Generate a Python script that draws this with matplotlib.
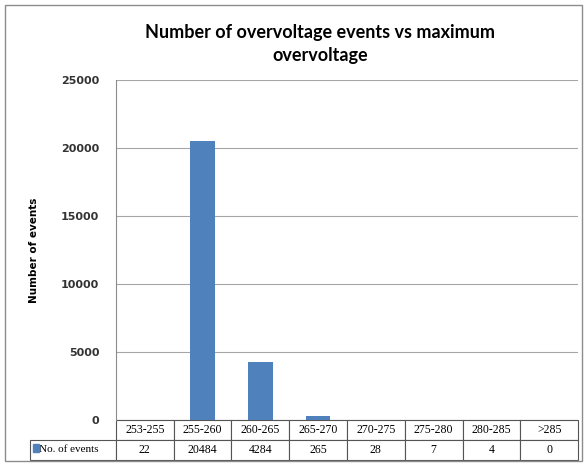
import matplotlib.pyplot as plt
from matplotlib.patches import Rectangle

# ===== data =====
categories = ["253-255", "255-260", "260-265", "265-270", "270-275", "275-280", "280-285", ">285"]
events = [22, 20484, 4284, 265, 28, 7, 4, 0]
series_name = "No. of events"
bar_color = "#4F81BD"

fig = plt.figure(figsize=(5.87, 4.65), dpi=100)
ax = fig.add_axes([0.1976, 0.0968, 0.7871, 0.7312])

# outer chart border
fig.patches.append(Rectangle((0.009, 0.008), 0.983, 0.982, transform=fig.transFigure,
                             fill=False, edgecolor="#8c8c8c", linewidth=1.0))

x = list(range(len(categories)))
ax.bar(x, events, width=0.42, color=bar_color, zorder=3)

ax.set_xlim(-0.5, len(categories) - 0.5)
ax.set_ylim(0, 25000)
ax.set_yticks(range(0, 25001, 5000))
ax.set_xticks([])
ax.tick_params(axis="y", length=0, pad=12)
for lab in ax.get_yticklabels():
    lab.set_fontsize(8)
    lab.set_fontweight("bold")
    lab.set_color("#333333")

ax.grid(axis="y", color="#a6a6a6", linewidth=0.8, zorder=0)
for s in ["top", "right", "bottom"]:
    ax.spines[s].set_visible(False)
ax.spines["left"].set_color("#8c8c8c")

ax.set_ylabel("Number of events", fontsize=7.5, fontweight="bold", labelpad=16)

fig.text(0.545, 0.905, "Number of overvoltage events vs maximum\novervoltage",
         ha="center", va="center", fontsize=13, fontweight="bold",
         family="Lato", linespacing=1.45)

# ===== data table =====
cell_text = [[""] + categories, [series_name] + [str(v) for v in events]]
first_w = 0.186
col_w = [first_w] + [1.0 / len(categories)] * len(categories)
tbl = ax.table(cellText=cell_text, colWidths=col_w, cellLoc="center",
               bbox=[-first_w, -0.1176, 1 + first_w, 0.1176])
tbl.auto_set_font_size(False)
for (r, c), cell in tbl.get_celld().items():
    cell.set_linewidth(0.8)
    cell.set_edgecolor("#555555")
    cell.get_text().set_fontsize(8.5)
    cell.get_text().set_family("Liberation Serif")
    if r == 0 and c == 0:
        cell.set_visible(False)
    if r == 1 and c == 0:
        cell.set_text_props(ha="left")
        cell._loc = "left"
        cell.PAD = 0.1
        cell.get_text().set_text(series_name)
        cell.get_text().set_fontsize(8)

# legend key in the table
ax.add_patch(Rectangle((-first_w + 0.006, -0.095), 0.013, 0.024, transform=ax.transAxes,
                       color=bar_color, clip_on=False))

fig.savefig("out.png", dpi=100)
